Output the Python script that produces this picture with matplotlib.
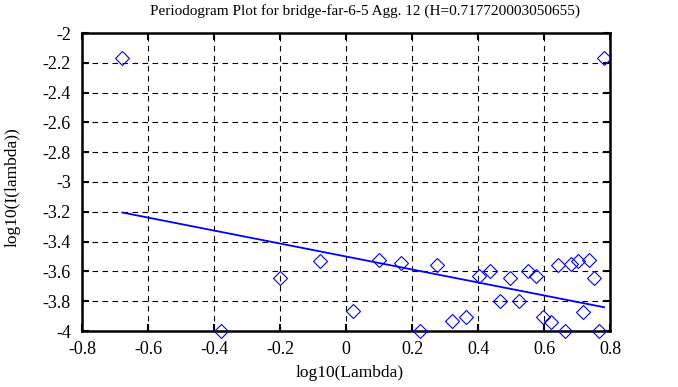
import numpy as np
import matplotlib
matplotlib.use("Agg")
import matplotlib.pyplot as plt
from matplotlib.ticker import FormatStrFormatter, MultipleLocator

# periodogram points, log10(lambda) vs log10(I(lambda))
log_lambda = [-0.678, 0.782, -0.379, -0.201, -0.078, 0.020, 0.099, 0.167,
              0.223, 0.276, 0.320, 0.364, 0.402, 0.435, 0.468, 0.498,
              0.525, 0.550, 0.576, 0.598, 0.622, 0.642, 0.664, 0.681,
              0.702, 0.719, 0.736, 0.750, 0.768]
log_I = [-2.165, -2.165, -4.0, -3.645, -3.529, -3.867, -3.522, -3.544,
         -4.0, -3.558, -3.935, -3.906, -3.628, -3.596, -3.798, -3.641,
         -3.798, -3.596, -3.628, -3.906, -3.937, -3.558, -4.0, -3.549,
         -3.529, -3.870, -3.522, -3.645, -4.0]

# fitted line: slope = 1 - 2H
H = 0.717720003050655
slope = 1 - 2 * H
intercept = -3.500
fit_range = [-0.678, 0.782]

plt.rcParams['font.family'] = ['Liberation Serif', 'DejaVu Serif']

fig = plt.figure(figsize=(6.78, 3.87), dpi=100)
ax = fig.add_axes([82/678, 1 - 331/387, (610-82)/678, (331-33)/387])

fx = np.array(fit_range)
ax.plot(fx, intercept + slope * fx, color='#0000ff', lw=1.3, zorder=3)
ax.plot(log_lambda, log_I, 'D', ms=7, mfc='none', mec='#0000ff', mew=0.8,
        clip_on=False, zorder=4)

ax.set_xlim(-0.8, 0.8)
ax.set_ylim(-4, -2)
ax.xaxis.set_major_locator(MultipleLocator(0.2))
ax.yaxis.set_major_locator(MultipleLocator(0.2))
ax.xaxis.set_major_formatter(FormatStrFormatter('%g'))
ax.yaxis.set_major_formatter(FormatStrFormatter('%g'))
ax.grid(True, color='black', ls=(0, (5, 4)), lw=0.8)
ax.tick_params(direction='in', length=5, width=1.5, top=True, right=True,
               labelsize=13)
ax.tick_params(axis='y', pad=8)
ax.tick_params(axis='x', pad=7)
for s in ax.spines.values():
    s.set_linewidth(1.8)

fig.text(365/678, 1 - 11/387,
         'Periodogram Plot for bridge-far-6-5 Agg. 12 (H=%s)' % H,
         fontsize=11, ha='center', va='center')
fig.text(350/678, 1 - 373/387, 'log10(Lambda)', fontsize=12.5,
         ha='center', va='center')
fig.text(13/678, 1 - 187/387, 'log10(I(lambda))', fontsize=12.5,
         ha='center', va='center', rotation=90)

fig.savefig('out.png', dpi=100)
